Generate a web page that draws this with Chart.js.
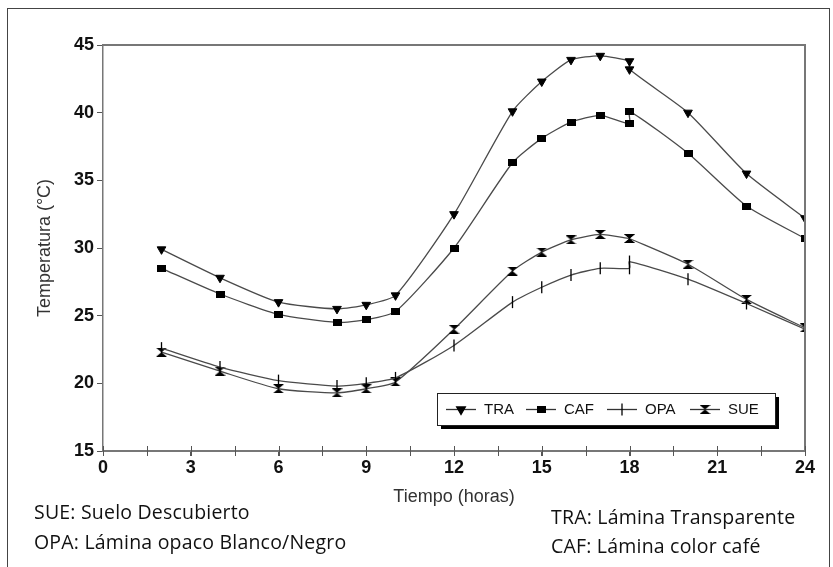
<!DOCTYPE html>
<html>
<head>
<meta charset="utf-8">
<script src="https://cdn.jsdelivr.net/npm/chart.js@4.4.1/dist/chart.umd.min.js"></script>
<style>
  body { margin: 0; background: #fff; }
  #wrap { position: relative; width: 833px; height: 567px; overflow: hidden; }
  #frame { position: absolute; left: 7px; top: 8px; width: 821px; height: 570px; border: 1.5px solid #444; pointer-events: none; }
  canvas { position: absolute; left: 0; top: 0; }
  .note { position: absolute; font-family: "Open Sans", sans-serif; font-size: 19.5px; letter-spacing: 0.2px; color: #111; white-space: nowrap; line-height: 26px; }
</style>
</head>
<body>
<div id="wrap">
  <canvas id="tempChart" width="833" height="567"></canvas>
  <div id="frame"></div>
  <div class="note" style="left:34px; top:499px;">SUE: Suelo Descubierto</div>
  <div class="note" style="left:34px; top:529px;">OPA: Lámina opaco Blanco/Negro</div>
  <div class="note" style="left:551px; top:504px;">TRA: Lámina Transparente</div>
  <div class="note" style="left:551px; top:533px;">CAF: Lámina color café</div>
</div>
<script>
// horas de medición (18 aparece dos veces)
const hours = [2, 4, 6, 8, 9, 10, 12, 14, 15, 16, 17, 18, 18, 20, 22, 24];
const tra = [29.9, 27.8, 26.0, 25.5, 25.8, 26.5, 32.5, 40.1, 42.3, 43.9, 44.2, 43.8, 43.2, 40.0, 35.5, 32.2];
const caf = [28.5, 26.6, 25.1, 24.5, 24.7, 25.3, 30.0, 36.3, 38.1, 39.3, 39.8, 39.2, 40.1, 37.0, 33.1, 30.7];
const opa = [22.6, 21.2, 20.2, 19.8, 20.0, 20.4, 22.8, 26.0, 27.1, 28.0, 28.5, 28.5, 29.0, 27.7, 25.9, 24.0];
const sue = [22.3, 20.9, 19.6, 19.3, 19.6, 20.1, 24.0, 28.3, 29.7, 30.6, 31.0, 30.7, 30.7, 28.8, 26.2, 24.1];
const seriesLabels = ['TRA', 'CAF', 'OPA', 'SUE'];
const xStep = 3, yStep = 5;

// marcador rectangular (CAF)
const rectMark = document.createElement('canvas');
rectMark.width = 9; rectMark.height = 7;
(function () {
  const c = rectMark.getContext('2d');
  c.fillStyle = '#000';
  c.fillRect(0, 0, 9, 7);
})();

// marcador reloj de arena (SUE)
const sueMark = document.createElement('canvas');
sueMark.width = 11; sueMark.height = 9;
(function () {
  const c = sueMark.getContext('2d');
  c.fillStyle = '#000';
  c.beginPath();
  c.moveTo(0, 0); c.lineTo(11, 0); c.lineTo(5.5, 4.5);
  c.lineTo(11, 9); c.lineTo(0, 9); c.lineTo(5.5, 4.5);
  c.closePath();
  c.fill();
})();

const styles = [
  { pointStyle: 'triangle', rotation: 180, radius: 5 },
  { pointStyle: rectMark, rotation: 0, radius: 5 },
  { pointStyle: 'line', rotation: 90, radius: 6 },
  { pointStyle: sueMark, rotation: 0, radius: 5 }
];

function toPoints(vals) {
  return hours.map((h, i) => ({ x: h, y: vals[i] }));
}

const allSeries = [tra, caf, opa, sue];
const datasets = allSeries.map((vals, i) => ({
  label: seriesLabels[i],
  data: toPoints(vals),
  borderColor: '#4a4a4a',
  borderWidth: 1.3,
  tension: 0.2,
  pointStyle: styles[i].pointStyle,
  pointRotation: styles[i].rotation,
  pointRadius: styles[i].radius,
  pointHoverRadius: styles[i].radius,
  pointBackgroundColor: '#000',
  pointBorderColor: '#000',
  pointBorderWidth: i === 2 ? 1.3 : 1
}));

const framePlugin = {
  id: 'frame',
  afterDraw(chart) {
    const ctx = chart.ctx;
    const a = chart.chartArea;
    const xs = chart.scales.x;
    ctx.save();
    // borde superior y derecho
    ctx.strokeStyle = '#777';
    ctx.lineWidth = 2;
    ctx.beginPath();
    ctx.moveTo(a.left, a.top);
    ctx.lineTo(a.right, a.top);
    ctx.lineTo(a.right, a.bottom);
    ctx.stroke();
    // marcas del eje x (cruzan el eje)
    ctx.strokeStyle = '#555';
    ctx.lineWidth = 1;
    for (let v = 0; v <= 24; v += 1.5) {
      const px = Math.round(xs.getPixelForValue(v)) + 0.5;
      ctx.beginPath();
      ctx.moveTo(px, a.bottom - 5);
      ctx.lineTo(px, a.bottom + 5);
      ctx.stroke();
    }
    // leyenda
    const bx = 437, by = 393, bw = 338, bh = 32;
    ctx.fillStyle = '#000';
    ctx.fillRect(bx + 4, by + 4, bw, bh);
    ctx.fillStyle = '#fff';
    ctx.fillRect(bx, by, bw, bh);
    ctx.strokeStyle = '#222';
    ctx.lineWidth = 1;
    ctx.strokeRect(bx + 0.5, by + 0.5, bw, bh);
    const lineStarts = [446, 526, 607, 690];
    const cy = by + bh / 2 + 0.5;
    ctx.font = '15px "Liberation Sans", Arial, sans-serif';
    ctx.textBaseline = 'middle';
    chart.data.datasets.forEach((ds, i) => {
      const x0 = lineStarts[i];
      ctx.strokeStyle = '#333';
      ctx.lineWidth = 1.3;
      ctx.beginPath();
      ctx.moveTo(x0, cy);
      ctx.lineTo(x0 + 30, cy);
      ctx.stroke();
      ctx.fillStyle = '#000';
      ctx.strokeStyle = '#000';
      Chart.helpers.drawPoint(ctx, {
        pointStyle: ds.pointStyle,
        rotation: ds.pointRotation,
        radius: ds.pointRadius,
        borderWidth: ds.pointBorderWidth
      }, x0 + 15, cy);
      ctx.fillStyle = '#111';
      ctx.fillText(ds.label, x0 + 38, cy);
    });
    ctx.restore();
  }
};

const tickFont = { family: '"Liberation Sans", Arial, sans-serif', size: 18, weight: 'bold' };
const titleFont = { family: '"Liberation Sans", Arial, sans-serif', size: 18 };

new Chart(document.getElementById('tempChart'), {
  type: 'line',
  data: { datasets: datasets },
  options: {
    responsive: false,
    animation: false,
    layout: { padding: { top: 45, right: 28, left: 0, bottom: 0 } },
    plugins: { legend: { display: false }, tooltip: { enabled: false } },
    scales: {
      x: {
        type: 'linear',
        min: 0,
        max: 24,
        afterFit(scale) { scale.height = 116; },
        ticks: { stepSize: xStep, font: tickFont, color: '#111', padding: 1, maxRotation: 0 },
        grid: { drawOnChartArea: false, color: '#555', tickLength: 5 },
        border: { display: true, color: '#777', width: 2 },
        title: { display: true, text: 'Tiempo (horas)', font: titleFont, color: '#333', padding: { top: 0, bottom: 59 } }
      },
      y: {
        min: 15,
        max: 45,
        afterFit(scale) { scale.width = 103; },
        ticks: { stepSize: yStep, font: tickFont, color: '#111', padding: 3 },
        grid: { drawOnChartArea: false, color: '#555', tickLength: 6 },
        border: { display: true, color: '#777', width: 1.5 },
        title: { display: true, text: 'Temperatura (°C)', font: titleFont, color: '#333', padding: { top: 34, bottom: 0 } }
      }
    }
  },
  plugins: [framePlugin]
});
</script>
</body>
</html>
